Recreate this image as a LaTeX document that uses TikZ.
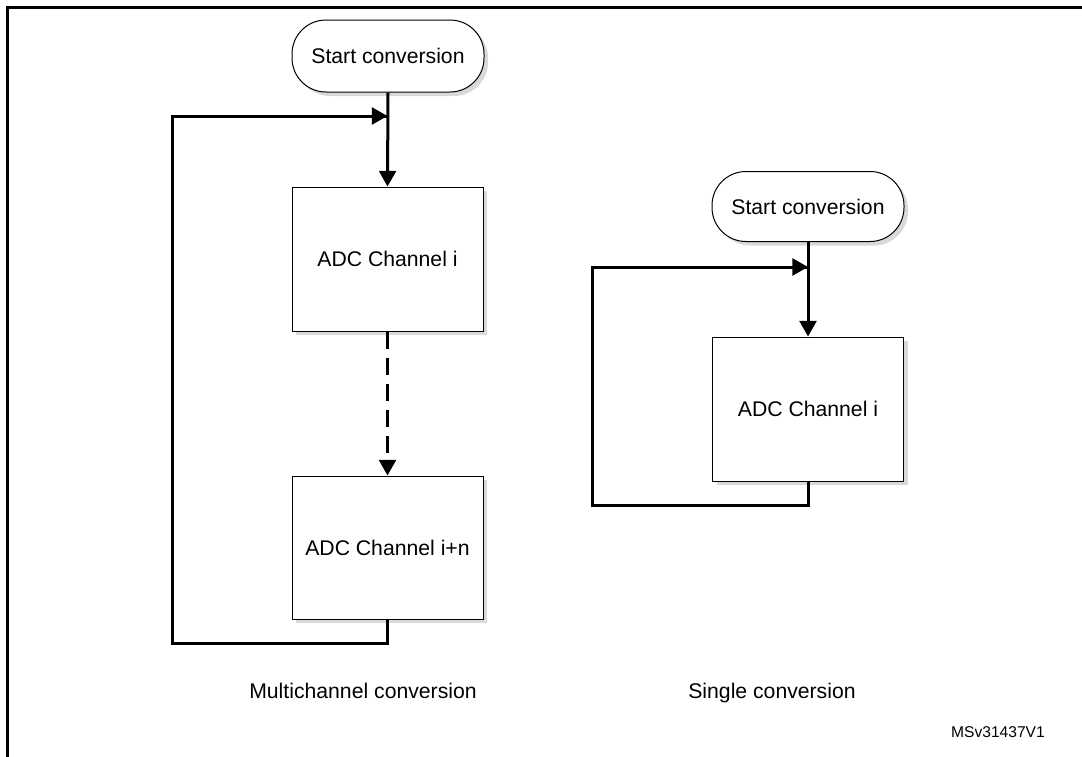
\documentclass[tikz,border=0pt]{standalone}
\usepackage{fontspec}
\setmainfont{Liberation Sans}
\usetikzlibrary{arrows.meta,shadows}
\begin{document}
\begin{tikzpicture}[x=0.5pt,y=-0.5pt,
  shade box/.style={drop shadow={shadow xshift=2pt,shadow yshift=-2pt,fill=black!15,opacity=1}},
  startnode/.style={draw,line width=0.5pt,fill=white,rounded corners=17pt,minimum width=96pt,minimum height=36pt,inner sep=0pt,font=\fontsize{10.6pt}{12pt}\selectfont,shade box},
  chbox/.style={draw,line width=0.5pt,fill=white,minimum width=95.5pt,inner sep=0pt,font=\fontsize{10.6pt}{12pt}\selectfont,shade box},
  conn/.style={line width=1.5pt,-{Triangle[length=7.8pt,width=8.4pt]}},
  loopline/.style={line width=1.5pt},
  caption/.style={font=\fontsize{10.6pt}{12pt}\selectfont,inner sep=0pt,anchor=base},
  frame/.style={line width=1.25pt}]
\useasboundingbox (0,0) rectangle (1082,756);
\draw[frame] (1120,7.5) -- (7.5,7.5) -- (7.5,800);

% Multichannel
\node[startnode] (s1) at (388,56) {Start conversion};
\node[chbox,minimum height=72pt] (b1) at (387.5,259) {ADC Channel i};
\node[chbox,minimum height=71.5pt] (b2) at (387.5,547.5) {ADC Channel i+n};
\coordinate (j1) at (387.5,116);
\draw[conn] (s1.south) -- (b1.north);
\draw[conn,dash pattern=on 8.5pt off 4.5pt] (b1.south) -- (b2.north);
\draw[loopline] (b2.south) |- (172,643) |- (j1);
\draw[conn] (172,116) -- (j1);

% Single
\node[startnode,minimum height=35pt] (s2) at (808,206.5) {Start conversion};
\node[chbox,minimum height=72pt] (b3) at (808,409) {ADC Channel i};
\coordinate (j2) at (808,267);
\draw[conn] (s2.south) -- (b3.north);
\draw[loopline] (b3.south) |- (592,505) |- (j2);
\draw[conn] (592,267) -- (j2);

% captions
\node[caption] (c1) at (363,698) {Multichannel conversion};
\node[caption] (c2) at (772,698) {Single conversion};
\node[caption,font=\fontsize{7.8pt}{9pt}\selectfont] (c3) at (998,737) {MSv31437V1};
\end{tikzpicture}
\end{document}
